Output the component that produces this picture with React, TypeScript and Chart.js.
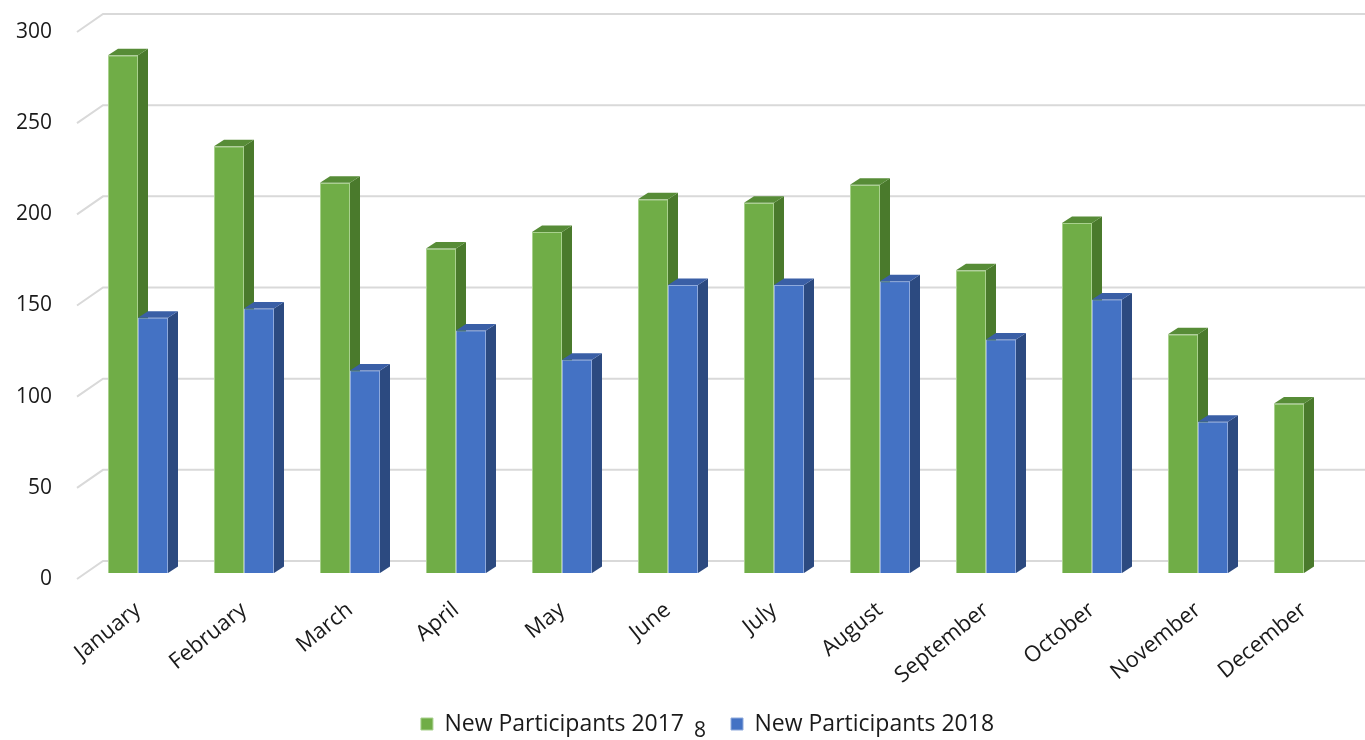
import React, { useEffect, useRef } from "react";
import { Chart, registerables } from "chart.js";

Chart.register(...registerables);

const months = [
  "January", "February", "March", "April", "May", "June",
  "July", "August", "September", "October", "November", "December",
];
const participants2017 = [284, 234, 214, 178, 187, 205, 203, 213, 166, 192, 131, 93];
const participants2018 = [140, 145, 111, 133, 117, 158, 158, 160, 128, 150, 83, null];
const seriesNames = ["New Participants 2017", "New Participants 2018"];
const yMin = 0;
const yMax = 300;
const yStep = 50;
const pageNumber = "8";

const FONT = "'Open Sans', 'Noto Sans', sans-serif";
const TEXT = "#1a1a1a";
const LEGEND_SIZE = 23;
const LEGEND_PAD = 47;
const LEGEND_TEXT_Y = 724;
const faces = [
  { front: "#70AD47", side: "#4A7A2C", top: "#578C37", edge: "#A9D18E" },
  { front: "#4472C4", side: "#2C4A80", top: "#3A5FA6", edge: "#8FAADC" },
];
const DX = 10;
const DY = 6.5;

function drawFaces(ctx: CanvasRenderingContext2D, meta: any, values: any[], f: any) {
  meta.data.forEach((bar: any, i: number) => {
    if (values[i] == null) return;
    const { x, y, base, width } = bar.getProps(["x", "y", "base", "width"], true);
    const l = x - width / 2;
    const r = x + width / 2;
    ctx.fillStyle = f.side;
    ctx.beginPath();
    ctx.moveTo(r, y);
    ctx.lineTo(r + DX, y - DY);
    ctx.lineTo(r + DX, base - DY);
    ctx.lineTo(r, base);
    ctx.closePath();
    ctx.fill();
    ctx.fillStyle = f.top;
    ctx.beginPath();
    ctx.moveTo(l, y);
    ctx.lineTo(l + DX, y - DY);
    ctx.lineTo(r + DX, y - DY);
    ctx.lineTo(r, y);
    ctx.closePath();
    ctx.fill();
  });
}

const threeD = {
  id: "threeD",
  afterLayout(chart: any) {
    const lg = chart.legend;
    if (!lg) return;
    const ih = Math.max(LEGEND_SIZE, 12);
    const top = LEGEND_TEXT_Y - LEGEND_PAD - ih / 2;
    lg.top = top;
    lg.bottom = top + lg.height;
  },
  beforeDatasetsDraw(chart: any) {
    const { ctx, chartArea } = chart;
    const ys = chart.scales.y;
    const x0 = chartArea.left - 8;
    const x1 = chartArea.left + 18;
    ctx.save();
    ctx.strokeStyle = "#d9d9d9";
    ctx.lineWidth = 2;
    ys.ticks.forEach((t: any) => {
      const p = ys.getPixelForValue(t.value);
      ctx.beginPath();
      ctx.moveTo(x0, p + 6);
      ctx.lineTo(x1, p - 12);
      ctx.lineTo(chart.width, p - 12);
      ctx.stroke();
    });
    ctx.restore();
  },
  afterDatasetsDraw(chart: any) {
    const { ctx } = chart;
    ctx.save();
    const m0 = chart.getDatasetMeta(0);
    drawFaces(ctx, m0, chart.data.datasets[0].data, faces[0]);
    const m1 = chart.getDatasetMeta(1);
    m1.data.forEach((bar: any, i: number) => {
      if (chart.data.datasets[1].data[i] != null) bar.draw(ctx);
    });
    drawFaces(ctx, m1, chart.data.datasets[1].data, faces[1]);
    ctx.restore();
  },
  afterDraw(chart: any) {
    const { ctx } = chart;
    ctx.save();
    ctx.font = `21px ${FONT}`;
    ctx.fillStyle = TEXT;
    ctx.textAlign = "center";
    ctx.textBaseline = "middle";
    ctx.fillText(pageNumber, 700, 731);
    ctx.restore();
  },
};

export default function App() {
  const ref = useRef<HTMLCanvasElement>(null);
  useEffect(() => {
    if (!ref.current) return;
    const chart = new Chart(ref.current, {
      type: "bar",
      data: {
        labels: months,
        datasets: [
          {
            label: seriesNames[0],
            data: participants2017,
            backgroundColor: faces[0].front,
            borderColor: faces[0].edge,
            borderWidth: 1,
          },
          {
            label: seriesNames[1],
            data: participants2018 as any,
            backgroundColor: faces[1].front,
            borderColor: faces[1].edge,
            borderWidth: 1,
          },
        ],
      },
      options: {
        responsive: false,
        animation: false,
        devicePixelRatio: 1,
        layout: { padding: { top: 26, right: -50, left: 0, bottom: -35 } },
        datasets: { bar: { barPercentage: 1, categoryPercentage: 0.566 } },
        plugins: {
          tooltip: { enabled: false },
          legend: {
            position: "bottom",
            labels: {
              boxWidth: 12,
              boxHeight: 12,
              padding: LEGEND_PAD,
              color: TEXT,
              font: { family: FONT, size: LEGEND_SIZE },
            },
          },
        },
        scales: {
          x: {
            grid: { display: false, drawTicks: false },
            border: { display: false },
            ticks: {
              autoSkip: false,
              minRotation: 39,
              maxRotation: 39,
              padding: 24,
              color: TEXT,
              font: { family: FONT, size: 22 },
            },
            afterFit: (s: any) => {
              const lh = s.chart.legend ? s.chart.legend.height : 80;
              s.height = 202 - lh;
              s.paddingLeft = 0;
              s.paddingRight = 0;
            },
          },
          y: {
            min: yMin,
            max: yMax,
            grid: { display: false, drawTicks: false },
            border: { display: false },
            ticks: {
              stepSize: yStep,
              padding: 33,
              labelOffset: 6,
              color: TEXT,
              font: { family: FONT, size: 21 },
            },
            afterFit: (s: any) => {
              s.width = 85;
              s.paddingTop = 0;
              s.paddingBottom = 0;
            },
          },
          yRight: {
            type: "linear",
            position: "right",
            grid: { display: false, drawTicks: false },
            border: { display: false },
            ticks: { display: false },
            afterFit: (s: any) => {
              s.width = 58;
              s.paddingTop = 0;
              s.paddingBottom = 0;
            },
          },
        },
      },
      plugins: [threeD],
    });
    return () => chart.destroy();
  }, []);
  return (
    <div style={{ position: "fixed", left: 0, top: 0, width: 1365, height: 740, background: "#fff" }}>
      <canvas ref={ref} width={1365} height={740} />
    </div>
  );
}
